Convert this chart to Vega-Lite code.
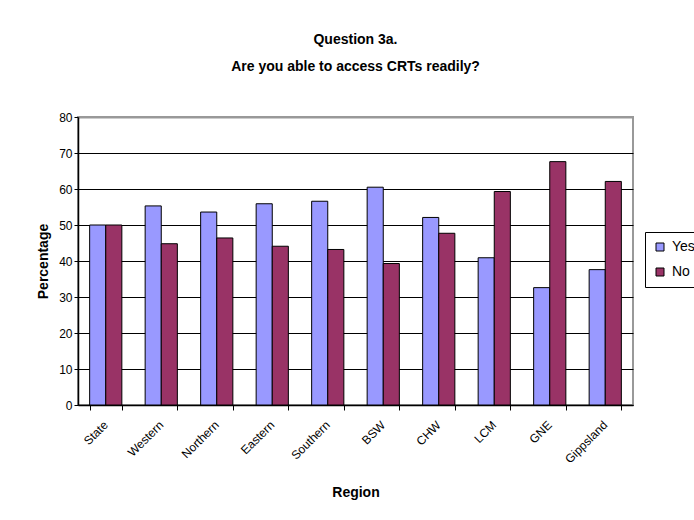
{
  "$schema": "https://vega.github.io/schema/vega-lite/v6.json",
  "width": 555,
  "height": 288,
  "autosize": {"type": "none"},
  "padding": {"left": 78, "top": 117, "right": 61, "bottom": 115},
  "background": "white",
  "title": {
    "text": ["Question 3a.", "Are you able to access CRTs readily?"],
    "font": "Liberation Sans",
    "fontSize": 14,
    "fontWeight": "bold",
    "color": "black",
    "lineHeight": 27,
    "anchor": "middle",
    "frame": "group",
    "offset": 37
  },
  "data": {
    "values": [
      {"region": "State", "answer": "Yes", "pct": 50.0},
      {"region": "State", "answer": "No", "pct": 50.0},
      {"region": "Western", "answer": "Yes", "pct": 55.3},
      {"region": "Western", "answer": "No", "pct": 44.8},
      {"region": "Northern", "answer": "Yes", "pct": 53.6},
      {"region": "Northern", "answer": "No", "pct": 46.4},
      {"region": "Eastern", "answer": "Yes", "pct": 55.9},
      {"region": "Eastern", "answer": "No", "pct": 44.1},
      {"region": "Southern", "answer": "Yes", "pct": 56.6},
      {"region": "Southern", "answer": "No", "pct": 43.2},
      {"region": "BSW", "answer": "Yes", "pct": 60.5},
      {"region": "BSW", "answer": "No", "pct": 39.3},
      {"region": "CHW", "answer": "Yes", "pct": 52.1},
      {"region": "CHW", "answer": "No", "pct": 47.7},
      {"region": "LCM", "answer": "Yes", "pct": 40.9},
      {"region": "LCM", "answer": "No", "pct": 59.3},
      {"region": "GNE", "answer": "Yes", "pct": 32.6},
      {"region": "GNE", "answer": "No", "pct": 67.6},
      {"region": "Gippsland", "answer": "Yes", "pct": 37.6},
      {"region": "Gippsland", "answer": "No", "pct": 62.1}
    ]
  },
  "mark": {"type": "bar", "stroke": "black", "strokeWidth": 1},
  "encoding": {
    "x": {
      "field": "region",
      "type": "nominal",
      "sort": null,
      "scale": {"paddingInner": 0.42, "paddingOuter": 0.21},
      "axis": {
        "title": "Region",
        "titleFont": "Liberation Sans",
        "titleFontSize": 14,
        "titleFontWeight": "bold",
        "titleColor": "black",
        "titleY": 87,
        "titleBaseline": "middle",
        "labelAngle": -45,
        "labelFont": "Liberation Sans",
        "labelFontSize": 12,
        "labelColor": "black",
        "labelPadding": 9,
        "labelOffset": -4,
        "tickBand": "extent",
        "tickColor": "black",
        "tickSize": 5,
        "domainColor": "black",
        "domainWidth": 1.5,
        "grid": false
      }
    },
    "xOffset": {"field": "answer", "type": "nominal", "sort": ["Yes", "No"]},
    "y": {
      "field": "pct",
      "type": "quantitative",
      "scale": {"domain": [0, 80], "nice": false},
      "axis": {
        "title": "Percentage",
        "titleFont": "Liberation Sans",
        "titleFontSize": 14,
        "titleFontWeight": "bold",
        "titleColor": "black",
        "titleX": -35,
        "titleBaseline": "middle",
        "values": [0, 10, 20, 30, 40, 50, 60, 70, 80],
        "labelFont": "Liberation Sans",
        "labelFontSize": 12,
        "labelColor": "black",
        "labelPadding": 2,
        "tickColor": "black",
        "tickSize": 4,
        "domainColor": "black",
        "domainWidth": 1.5,
        "grid": true,
        "gridColor": {
          "condition": {"test": "datum.value === 80", "value": "#999999"},
          "value": "black"
        },
        "gridWidth": {
          "condition": {"test": "datum.value === 80", "value": 2},
          "value": 1
        },
        "gridOpacity": 1
      }
    },
    "color": {
      "field": "answer",
      "type": "nominal",
      "sort": ["Yes", "No"],
      "scale": {"domain": ["Yes", "No"], "range": ["#9999FF", "#993366"]},
      "legend": {
        "title": null,
        "orient": "none",
        "legendX": 567,
        "legendY": 115,
        "symbolType": "square",
        "symbolSize": 64,
        "symbolStrokeColor": "black",
        "symbolStrokeWidth": 1,
        "labelFont": "Liberation Sans",
        "labelFontSize": 14,
        "labelColor": "black",
        "labelOffset": 5,
        "rowPadding": 11,
        "padding": 8,
        "strokeColor": "black"
      }
    }
  },
  "config": {
    "view": {"stroke": "#999999", "strokeWidth": 2},
    "axis": {"zindex": 1}
  }
}
